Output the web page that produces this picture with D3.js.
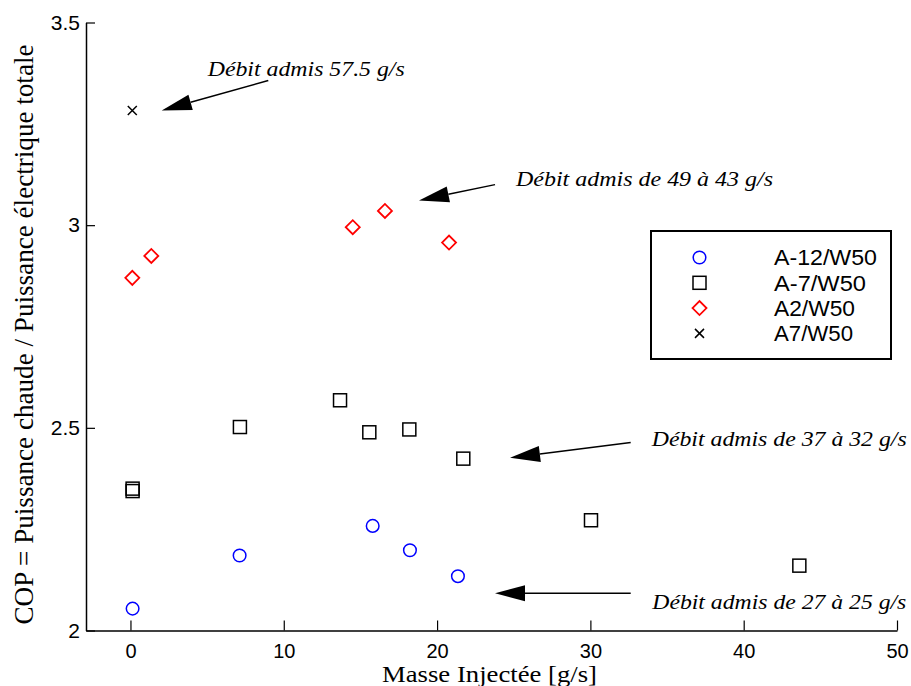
<!DOCTYPE html>
<html>
<head>
<meta charset="utf-8">
<script src="https://cdn.jsdelivr.net/npm/d3@7"></script>
<style>
  html, body { margin: 0; padding: 0; background: #fff; }
  svg { display: block; }
</style>
</head>
<body>
<svg id="chart" width="911" height="686"></svg>
<script>
// ---- Data ----
const seriesNames = ["A-12/W50", "A-7/W50", "A2/W50", "A7/W50"];
const xA12W50 = [0.14, 7.12, 15.8, 18.23, 21.36];
const yA12W50 = [2.054, 2.185, 2.258, 2.198, 2.134];
const xAm7W50 = [0.14, 0.14, 7.14, 13.67, 15.58, 18.19, 21.71, 30.04, 43.63];
const yAm7W50 = [2.350, 2.344, 2.502, 2.568, 2.489, 2.496, 2.424, 2.272, 2.160];
const xA2W50 = [0.12, 1.36, 14.5, 16.6, 20.78];
const yA2W50 = [2.870, 2.924, 2.995, 3.035, 2.957];
const xA7W50 = [0.12];
const yA7W50 = [3.283];
const xTicks = [0, 10, 20, 30, 40, 50];
const yTicks = [2, 2.5, 3, 3.5];
const yTickLabels = ["2", "2.5", "3", "3.5"];
const xTitle = "Masse Injectée [g/s]";
const yTitle = "COP = Puissance chaude / Puissance électrique totale";
// annotations: text, text anchor point (data units), arrow tail, arrow tip (data units)
const annoTexts = ["Débit admis 57.5 g/s", "Débit admis de 49 à 43 g/s", "Débit admis de 37 à 32 g/s", "Débit admis de 27 à 25 g/s"];
const annoTextPos = [[5.04, 3.369], [25.15, 3.096], [34.0, 2.456], [34.04, 2.052]];
const annoTail = [[8.99, 3.357], [23.78, 3.100], [32.63, 2.464], [32.63, 2.092]];
const annoTip = [[2.04, 3.283], [18.82, 3.061], [24.76, 2.426], [23.78, 2.092]];

// ---- Setup ----
const svg = d3.select("#chart");
const x = d3.scaleLinear().domain([-2.9, 50]).range([86, 897]);
const y = d3.scaleLinear().domain([2, 3.5]).range([630.5, 22.5]);

const sans = "'Liberation Sans', Arial, Helvetica, sans-serif";
const serif = "'Liberation Serif', 'Times New Roman', Times, serif";

// ---- Axes ----
const xAxis = svg.append("g").attr("transform", `translate(0,${y(2)})`)
  .call(d3.axisBottom(x).tickValues(xTicks).tickFormat(d3.format("d")).tickSizeInner(-10).tickSizeOuter(0));
xAxis.select(".domain").attr("stroke", "#000").attr("stroke-width", 1.5);
xAxis.selectAll(".tick line").attr("stroke", "#000").attr("stroke-width", 1.2);
xAxis.selectAll(".tick text").attr("y", 27).attr("dy", 0).attr("fill", "#000")
  .style("font-family", sans).style("font-size", "20px");

const yAxis = svg.append("g").attr("transform", `translate(${x(-2.9)},0)`)
  .call(d3.axisLeft(y).tickValues(yTicks).tickFormat((d, i) => yTickLabels[i]).tickSizeInner(-9).tickSizeOuter(0));
yAxis.select(".domain").attr("stroke", "#000").attr("stroke-width", 1.5);
yAxis.selectAll(".tick line").attr("stroke", "#000").attr("stroke-width", 1.2);
yAxis.selectAll(".tick text").attr("x", -6).attr("fill", "#000")
  .style("font-family", sans).style("font-size", "21px");

// axis titles
svg.append("text").attr("x", (x(-2.9) + x(50)) / 2 - 2).attr("y", 682)
  .attr("text-anchor", "middle").attr("textLength", 215).attr("lengthAdjust", "spacingAndGlyphs")
  .style("font-family", serif).style("font-size", "23px").text(xTitle);
svg.append("text").attr("transform", `translate(33,${(y(2) + y(3.5)) / 2 + 8}) rotate(-90)`)
  .attr("text-anchor", "middle").attr("textLength", 580).attr("lengthAdjust", "spacingAndGlyphs")
  .style("font-family", serif).style("font-size", "27px").text(yTitle);

// ---- Markers ----
const mk = svg.append("g");
function drawMarker(g, type, cx, cy) {
  if (type === 0) {
    g.append("circle").attr("cx", cx).attr("cy", cy).attr("r", 6.3)
      .attr("fill", "none").attr("stroke", "#0000ff").attr("stroke-width", 1.5);
  } else if (type === 1) {
    g.append("rect").attr("x", cx - 6.5).attr("y", cy - 6.5).attr("width", 13).attr("height", 13)
      .attr("fill", "none").attr("stroke", "#000").attr("stroke-width", 1.5);
  } else if (type === 2) {
    const s = 7;
    g.append("path").attr("d", `M${cx - s},${cy}L${cx},${cy - s}L${cx + s},${cy}L${cx},${cy + s}Z`)
      .attr("fill", "none").attr("stroke", "#ff0000").attr("stroke-width", 1.8);
  } else {
    const s = 4.5;
    g.append("path").attr("d", `M${cx - s},${cy - s}L${cx + s},${cy + s}M${cx - s},${cy + s}L${cx + s},${cy - s}`)
      .attr("fill", "none").attr("stroke", "#000").attr("stroke-width", 1.5);
  }
}
const seriesX = [xA12W50, xAm7W50, xA2W50, xA7W50];
const seriesY = [yA12W50, yAm7W50, yA2W50, yA7W50];
seriesX.forEach((xs, k) => {
  xs.forEach((v, i) => drawMarker(mk, k, x(v), y(seriesY[k][i])));
});

// ---- Annotations ----
const an = svg.append("g");
annoTexts.forEach((t, i) => {
  const x1 = x(annoTail[i][0]), y1 = y(annoTail[i][1]);
  const x2 = x(annoTip[i][0]), y2 = y(annoTip[i][1]);
  const ang = Math.atan2(y2 - y1, x2 - x1);
  const L = 30, W = 8;
  const bx = x2 - L * Math.cos(ang), by = y2 - L * Math.sin(ang);
  an.append("line").attr("x1", x1).attr("y1", y1).attr("x2", bx).attr("y2", by)
    .attr("stroke", "#000").attr("stroke-width", 1.5);
  const px = -Math.sin(ang), py = Math.cos(ang);
  an.append("path")
    .attr("d", `M${x2},${y2}L${bx + W * px},${by + W * py}L${bx - W * px},${by - W * py}Z`)
    .attr("fill", "#000");
  an.append("text").attr("x", x(annoTextPos[i][0])).attr("y", y(annoTextPos[i][1]))
    .style("font-family", serif).style("font-style", "italic").style("font-size", "21px").text(t);
});
// stretch annotation texts to the reference widths
const annoWidths = [197, 257, 255, 254];
an.selectAll("text").attr("textLength", (d, i) => annoWidths[i]).attr("lengthAdjust", "spacingAndGlyphs");

// ---- Legend ----
const lg = svg.append("g");
lg.append("rect").attr("x", 651).attr("y", 231).attr("width", 240).attr("height", 128)
  .attr("fill", "#fff").attr("stroke", "#000").attr("stroke-width", 2);
const legendWidths = [103, 92, 81, 79];
seriesNames.forEach((n, i) => {
  const cy = 257.5 + i * 25.3;
  drawMarker(lg, i, 699.5, cy);
  lg.append("text").attr("x", 774).attr("y", cy).attr("dy", "0.36em")
    .attr("textLength", legendWidths[i]).attr("lengthAdjust", "spacingAndGlyphs")
    .style("font-family", sans).style("font-size", "22px").text(n);
});
</script>
</body>
</html>
